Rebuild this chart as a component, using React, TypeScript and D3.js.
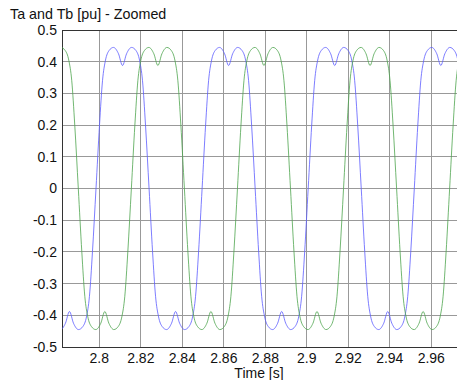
import React from 'react'
import * as d3 from 'd3'

// axis ticks
const timeTicks = [2.8, 2.82, 2.84, 2.86, 2.88, 2.9, 2.92, 2.94, 2.96]
const valueTicks = [-0.5, -0.4, -0.3, -0.2, -0.1, 0, 0.1, 0.2, 0.3, 0.4, 0.5]

// Ta (blue): [time s, value pu]
const taPoints: [number, number][] = [
  [2.77911, -0.435], [2.78127, -0.445], [2.78368, -0.425], [2.78562, -0.388], [2.78756, -0.425],
  [2.78997, -0.445], [2.79212, -0.435], [2.79381, -0.405], [2.79525, -0.34], [2.7967, -0.2],
  [2.79841, 0], [2.8001, 0.2], [2.80154, 0.34], [2.80299, 0.405], [2.80468, 0.435],
  [2.80684, 0.445], [2.80925, 0.425], [2.81119, 0.388], [2.81313, 0.425], [2.81554, 0.445],
  [2.81769, 0.435], [2.81938, 0.405], [2.82082, 0.34], [2.82227, 0.2], [2.82398, 0],
  [2.82567, -0.2], [2.82711, -0.34], [2.82856, -0.405], [2.83025, -0.435], [2.83241, -0.445],
  [2.83482, -0.425], [2.83676, -0.388], [2.8387, -0.425], [2.84111, -0.445], [2.84326, -0.435],
  [2.84495, -0.405], [2.84639, -0.34], [2.84784, -0.2], [2.84954, 0], [2.85123, 0.2],
  [2.85267, 0.34], [2.85412, 0.405], [2.85581, 0.435], [2.85797, 0.445], [2.86038, 0.425],
  [2.86232, 0.388], [2.86426, 0.425], [2.86667, 0.445], [2.86882, 0.435], [2.87051, 0.405],
  [2.87195, 0.34], [2.8734, 0.2], [2.87511, 0], [2.8768, -0.2], [2.87824, -0.34],
  [2.87969, -0.405], [2.88138, -0.435], [2.88354, -0.445], [2.88595, -0.425], [2.88789, -0.388],
  [2.88983, -0.425], [2.89224, -0.445], [2.89439, -0.435], [2.89608, -0.405], [2.89752, -0.34],
  [2.89897, -0.2], [2.90067, 0], [2.90236, 0.2], [2.9038, 0.34], [2.90525, 0.405],
  [2.90694, 0.435], [2.9091, 0.445], [2.91151, 0.425], [2.91345, 0.388], [2.91539, 0.425],
  [2.9178, 0.445], [2.91995, 0.435], [2.92164, 0.405], [2.92308, 0.34], [2.92453, 0.2],
  [2.92624, 0], [2.92793, -0.2], [2.92937, -0.34], [2.93082, -0.405], [2.93251, -0.435],
  [2.93467, -0.445], [2.93708, -0.425], [2.93902, -0.388], [2.94096, -0.425], [2.94337, -0.445],
  [2.94552, -0.435], [2.94721, -0.405], [2.94865, -0.34], [2.9501, -0.2], [2.95181, 0],
  [2.9535, 0.2], [2.95494, 0.34], [2.95639, 0.405], [2.95808, 0.435], [2.96024, 0.445],
  [2.96265, 0.425], [2.96459, 0.388], [2.96653, 0.425], [2.96894, 0.445], [2.97109, 0.435],
  [2.97278, 0.405], [2.97422, 0.34],
]

// Tb (green)
const tbPoints: [number, number][] = [
  [2.77709, 0.388], [2.77903, 0.425], [2.78144, 0.445], [2.78359, 0.435], [2.78528, 0.405],
  [2.78672, 0.34], [2.78817, 0.2], [2.78988, 0], [2.79157, -0.2], [2.79301, -0.34],
  [2.79446, -0.405], [2.79615, -0.435], [2.79831, -0.445], [2.80072, -0.425], [2.80266, -0.388],
  [2.8046, -0.425], [2.80701, -0.445], [2.80916, -0.435], [2.81085, -0.405], [2.81229, -0.34],
  [2.81374, -0.2], [2.81545, 0], [2.81714, 0.2], [2.81858, 0.34], [2.82003, 0.405],
  [2.82172, 0.435], [2.82388, 0.445], [2.82629, 0.425], [2.82823, 0.388], [2.83017, 0.425],
  [2.83258, 0.445], [2.83473, 0.435], [2.83642, 0.405], [2.83786, 0.34], [2.83931, 0.2],
  [2.84101, 0], [2.8427, -0.2], [2.84414, -0.34], [2.84559, -0.405], [2.84728, -0.435],
  [2.84944, -0.445], [2.85185, -0.425], [2.85379, -0.388], [2.85573, -0.425], [2.85814, -0.445],
  [2.86029, -0.435], [2.86198, -0.405], [2.86342, -0.34], [2.86487, -0.2], [2.86658, 0],
  [2.86827, 0.2], [2.86971, 0.34], [2.87116, 0.405], [2.87285, 0.435], [2.87501, 0.445],
  [2.87742, 0.425], [2.87936, 0.388], [2.8813, 0.425], [2.88371, 0.445], [2.88586, 0.435],
  [2.88755, 0.405], [2.88899, 0.34], [2.89044, 0.2], [2.89214, 0], [2.89383, -0.2],
  [2.89527, -0.34], [2.89672, -0.405], [2.89841, -0.435], [2.90057, -0.445], [2.90298, -0.425],
  [2.90492, -0.388], [2.90686, -0.425], [2.90927, -0.445], [2.91142, -0.435], [2.91311, -0.405],
  [2.91455, -0.34], [2.916, -0.2], [2.91771, 0], [2.9194, 0.2], [2.92084, 0.34],
  [2.92229, 0.405], [2.92398, 0.435], [2.92614, 0.445], [2.92855, 0.425], [2.93049, 0.388],
  [2.93243, 0.425], [2.93484, 0.445], [2.93699, 0.435], [2.93868, 0.405], [2.94012, 0.34],
  [2.94157, 0.2], [2.94328, 0], [2.94497, -0.2], [2.94641, -0.34], [2.94786, -0.405],
  [2.94955, -0.435], [2.95171, -0.445], [2.95412, -0.425], [2.95606, -0.388], [2.958, -0.425],
  [2.96041, -0.445], [2.96256, -0.435], [2.96425, -0.405], [2.96569, -0.34], [2.96714, -0.2],
  [2.96884, 0], [2.97053, 0.2], [2.97197, 0.34], [2.97342, 0.405],
]

const W = 457
const H = 380
const left = 62
const top = 30
const bottom = 347

const App = () => {
  const x = d3.scaleLinear().domain([2.78202, 2.97239]).range([left, W])
  const y = d3.scaleLinear().domain([-0.5, 0.5]).range([bottom, top])

  const line = d3
    .line<[number, number]>()
    .x(d => x(d[0]))
    .y(d => y(d[1]))
    .curve(d3.curveMonotoneX)

  const fmt = (v: number) => String(+v.toFixed(2))
  const font = 'Liberation Sans, Arial, sans-serif'

  return (
    <svg width={W} height={H} style={{ position: 'absolute', left: 0, top: 0, background: '#fff' }}>
      <defs>
        <clipPath id="plot">
          <rect x={left} y={top} width={W - left} height={bottom - top} />
        </clipPath>
      </defs>

      {/* grid */}
      <g stroke="#999" strokeWidth={1} shapeRendering="crispEdges">
        {timeTicks.map(t => (
          <line key={t} x1={x(t)} x2={x(t)} y1={top} y2={bottom} />
        ))}
        {valueTicks.map(v => (
          <line key={v} x1={left} x2={W} y1={y(v)} y2={y(v)} />
        ))}
      </g>

      {/* frame */}
      <g stroke="#333" strokeWidth={1} shapeRendering="crispEdges">
        <line x1={left} x2={W} y1={top} y2={top} />
        <line x1={left} x2={W} y1={bottom} y2={bottom} />
        <line x1={left} x2={left} y1={top} y2={bottom} />
      </g>

      <g clipPath="url(#plot)" fill="none" strokeWidth={0.8}>
        <path d={line(taPoints) ?? ''} stroke="#5c5cff" />
        <path d={line(tbPoints) ?? ''} stroke="#4ea44e" />
      </g>

      {/* y tick labels */}
      <g fontFamily={font} fontSize={14} fill="#111" textAnchor="end">
        {valueTicks.map(v => (
          <text key={v} x={57} y={y(v)} dy="0.35em">
            {fmt(v)}
          </text>
        ))}
      </g>

      {/* x tick labels */}
      <g fontFamily={font} fontSize={14} fill="#111" textAnchor="middle">
        {timeTicks.map(t => (
          <text key={t} x={x(t)} y={363}>
            {fmt(t)}
          </text>
        ))}
      </g>

      <text x={259} y={378} fontFamily={font} fontSize={14} fill="#111" textAnchor="middle">
        Time [s]
      </text>
      <text x={10} y={19} fontFamily={font} fontSize={14.3} fill="#111">
        Ta and Tb [pu] - Zoomed
      </text>
    </svg>
  )
}

export default App
